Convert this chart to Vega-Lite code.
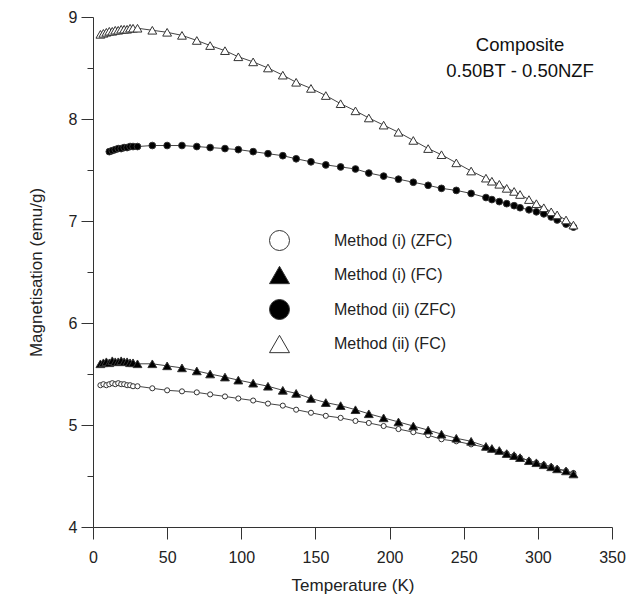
{
  "$schema": "https://vega.github.io/schema/vega-lite/v6.json",
  "autosize": {"type": "none"},
  "width": 519,
  "height": 510,
  "padding": {"left": 93, "top": 17, "right": 15, "bottom": 71},
  "background": "white",
  "config": {
    "view": {"stroke": null},
    "font": "Liberation Sans",
    "axis": {"domainColor": "#333", "tickColor": "#333", "labelColor": "#222", "titleColor": "#222", "labelFont": "Liberation Sans", "titleFont": "Liberation Sans", "labelFontSize": 16, "titleFontSize": 17, "titleFontWeight": "normal", "grid": false, "domainWidth": 1, "tickWidth": 1},
    "legend": {"symbolStrokeWidth": 1, "symbolOpacity": 1}
  },
  "datasets": {
    "pts": [
      {"T":5,"M":5.39,"s":"Method (i) (ZFC)"},{"T":7,"M":5.40,"s":"Method (i) (ZFC)"},{"T":9,"M":5.39,"s":"Method (i) (ZFC)"},{"T":11,"M":5.40,"s":"Method (i) (ZFC)"},{"T":13,"M":5.41,"s":"Method (i) (ZFC)"},{"T":15,"M":5.40,"s":"Method (i) (ZFC)"},{"T":17,"M":5.41,"s":"Method (i) (ZFC)"},{"T":19,"M":5.40,"s":"Method (i) (ZFC)"},{"T":21,"M":5.40,"s":"Method (i) (ZFC)"},{"T":23,"M":5.39,"s":"Method (i) (ZFC)"},{"T":25,"M":5.39,"s":"Method (i) (ZFC)"},{"T":27,"M":5.38,"s":"Method (i) (ZFC)"},{"T":30,"M":5.38,"s":"Method (i) (ZFC)"},
      {"T":40,"M":5.36,"s":"Method (i) (ZFC)"},{"T":50,"M":5.34,"s":"Method (i) (ZFC)"},{"T":60,"M":5.33,"s":"Method (i) (ZFC)"},{"T":70,"M":5.32,"s":"Method (i) (ZFC)"},{"T":79,"M":5.30,"s":"Method (i) (ZFC)"},{"T":89,"M":5.28,"s":"Method (i) (ZFC)"},{"T":98,"M":5.26,"s":"Method (i) (ZFC)"},{"T":108,"M":5.24,"s":"Method (i) (ZFC)"},{"T":118,"M":5.21,"s":"Method (i) (ZFC)"},{"T":128,"M":5.19,"s":"Method (i) (ZFC)"},{"T":137,"M":5.15,"s":"Method (i) (ZFC)"},{"T":147,"M":5.12,"s":"Method (i) (ZFC)"},{"T":157,"M":5.09,"s":"Method (i) (ZFC)"},{"T":167,"M":5.07,"s":"Method (i) (ZFC)"},{"T":177,"M":5.04,"s":"Method (i) (ZFC)"},{"T":186,"M":5.02,"s":"Method (i) (ZFC)"},{"T":196,"M":4.99,"s":"Method (i) (ZFC)"},{"T":206,"M":4.96,"s":"Method (i) (ZFC)"},{"T":216,"M":4.93,"s":"Method (i) (ZFC)"},{"T":226,"M":4.90,"s":"Method (i) (ZFC)"},{"T":235,"M":4.86,"s":"Method (i) (ZFC)"},{"T":245,"M":4.84,"s":"Method (i) (ZFC)"},{"T":255,"M":4.81,"s":"Method (i) (ZFC)"},{"T":265,"M":4.78,"s":"Method (i) (ZFC)"},{"T":269,"M":4.76,"s":"Method (i) (ZFC)"},{"T":274,"M":4.74,"s":"Method (i) (ZFC)"},{"T":279,"M":4.72,"s":"Method (i) (ZFC)"},{"T":284,"M":4.70,"s":"Method (i) (ZFC)"},{"T":288,"M":4.68,"s":"Method (i) (ZFC)"},{"T":294,"M":4.65,"s":"Method (i) (ZFC)"},{"T":299,"M":4.63,"s":"Method (i) (ZFC)"},{"T":304,"M":4.61,"s":"Method (i) (ZFC)"},{"T":309,"M":4.59,"s":"Method (i) (ZFC)"},{"T":313,"M":4.57,"s":"Method (i) (ZFC)"},{"T":319,"M":4.55,"s":"Method (i) (ZFC)"},{"T":324,"M":4.53,"s":"Method (i) (ZFC)"},

      {"T":5,"M":5.60,"s":"Method (i) (FC)"},{"T":7,"M":5.61,"s":"Method (i) (FC)"},{"T":9,"M":5.62,"s":"Method (i) (FC)"},{"T":11,"M":5.61,"s":"Method (i) (FC)"},{"T":13,"M":5.63,"s":"Method (i) (FC)"},{"T":15,"M":5.62,"s":"Method (i) (FC)"},{"T":17,"M":5.62,"s":"Method (i) (FC)"},{"T":19,"M":5.63,"s":"Method (i) (FC)"},{"T":21,"M":5.62,"s":"Method (i) (FC)"},{"T":23,"M":5.62,"s":"Method (i) (FC)"},{"T":25,"M":5.61,"s":"Method (i) (FC)"},{"T":27,"M":5.61,"s":"Method (i) (FC)"},{"T":30,"M":5.60,"s":"Method (i) (FC)"},
      {"T":40,"M":5.60,"s":"Method (i) (FC)"},{"T":50,"M":5.58,"s":"Method (i) (FC)"},{"T":60,"M":5.56,"s":"Method (i) (FC)"},{"T":70,"M":5.53,"s":"Method (i) (FC)"},{"T":79,"M":5.50,"s":"Method (i) (FC)"},{"T":89,"M":5.47,"s":"Method (i) (FC)"},{"T":98,"M":5.44,"s":"Method (i) (FC)"},{"T":108,"M":5.41,"s":"Method (i) (FC)"},{"T":118,"M":5.38,"s":"Method (i) (FC)"},{"T":128,"M":5.34,"s":"Method (i) (FC)"},{"T":137,"M":5.31,"s":"Method (i) (FC)"},{"T":147,"M":5.26,"s":"Method (i) (FC)"},{"T":157,"M":5.22,"s":"Method (i) (FC)"},{"T":167,"M":5.19,"s":"Method (i) (FC)"},{"T":177,"M":5.15,"s":"Method (i) (FC)"},{"T":186,"M":5.11,"s":"Method (i) (FC)"},{"T":196,"M":5.07,"s":"Method (i) (FC)"},{"T":206,"M":5.03,"s":"Method (i) (FC)"},{"T":216,"M":4.99,"s":"Method (i) (FC)"},{"T":226,"M":4.95,"s":"Method (i) (FC)"},{"T":235,"M":4.91,"s":"Method (i) (FC)"},{"T":245,"M":4.87,"s":"Method (i) (FC)"},{"T":255,"M":4.84,"s":"Method (i) (FC)"},{"T":265,"M":4.79,"s":"Method (i) (FC)"},{"T":269,"M":4.77,"s":"Method (i) (FC)"},{"T":274,"M":4.75,"s":"Method (i) (FC)"},{"T":279,"M":4.72,"s":"Method (i) (FC)"},{"T":284,"M":4.70,"s":"Method (i) (FC)"},{"T":288,"M":4.68,"s":"Method (i) (FC)"},{"T":294,"M":4.65,"s":"Method (i) (FC)"},{"T":299,"M":4.63,"s":"Method (i) (FC)"},{"T":304,"M":4.61,"s":"Method (i) (FC)"},{"T":309,"M":4.59,"s":"Method (i) (FC)"},{"T":313,"M":4.57,"s":"Method (i) (FC)"},{"T":319,"M":4.55,"s":"Method (i) (FC)"},{"T":324,"M":4.52,"s":"Method (i) (FC)"},

      {"T":11,"M":7.68,"s":"Method (ii) (ZFC)"},{"T":13,"M":7.69,"s":"Method (ii) (ZFC)"},{"T":15,"M":7.70,"s":"Method (ii) (ZFC)"},{"T":17,"M":7.71,"s":"Method (ii) (ZFC)"},{"T":19,"M":7.71,"s":"Method (ii) (ZFC)"},{"T":21,"M":7.72,"s":"Method (ii) (ZFC)"},{"T":23,"M":7.72,"s":"Method (ii) (ZFC)"},{"T":25,"M":7.73,"s":"Method (ii) (ZFC)"},{"T":27,"M":7.73,"s":"Method (ii) (ZFC)"},{"T":30,"M":7.73,"s":"Method (ii) (ZFC)"},
      {"T":40,"M":7.74,"s":"Method (ii) (ZFC)"},{"T":50,"M":7.74,"s":"Method (ii) (ZFC)"},{"T":60,"M":7.74,"s":"Method (ii) (ZFC)"},{"T":70,"M":7.73,"s":"Method (ii) (ZFC)"},{"T":79,"M":7.72,"s":"Method (ii) (ZFC)"},{"T":89,"M":7.71,"s":"Method (ii) (ZFC)"},{"T":98,"M":7.70,"s":"Method (ii) (ZFC)"},{"T":108,"M":7.68,"s":"Method (ii) (ZFC)"},{"T":118,"M":7.66,"s":"Method (ii) (ZFC)"},{"T":128,"M":7.64,"s":"Method (ii) (ZFC)"},{"T":137,"M":7.61,"s":"Method (ii) (ZFC)"},{"T":147,"M":7.58,"s":"Method (ii) (ZFC)"},{"T":157,"M":7.55,"s":"Method (ii) (ZFC)"},{"T":167,"M":7.53,"s":"Method (ii) (ZFC)"},{"T":177,"M":7.51,"s":"Method (ii) (ZFC)"},{"T":186,"M":7.47,"s":"Method (ii) (ZFC)"},{"T":196,"M":7.44,"s":"Method (ii) (ZFC)"},{"T":206,"M":7.41,"s":"Method (ii) (ZFC)"},{"T":216,"M":7.38,"s":"Method (ii) (ZFC)"},{"T":226,"M":7.35,"s":"Method (ii) (ZFC)"},{"T":235,"M":7.32,"s":"Method (ii) (ZFC)"},{"T":245,"M":7.30,"s":"Method (ii) (ZFC)"},{"T":255,"M":7.27,"s":"Method (ii) (ZFC)"},{"T":265,"M":7.23,"s":"Method (ii) (ZFC)"},{"T":269,"M":7.21,"s":"Method (ii) (ZFC)"},{"T":274,"M":7.19,"s":"Method (ii) (ZFC)"},{"T":279,"M":7.17,"s":"Method (ii) (ZFC)"},{"T":284,"M":7.15,"s":"Method (ii) (ZFC)"},{"T":288,"M":7.13,"s":"Method (ii) (ZFC)"},{"T":294,"M":7.11,"s":"Method (ii) (ZFC)"},{"T":299,"M":7.09,"s":"Method (ii) (ZFC)"},{"T":304,"M":7.07,"s":"Method (ii) (ZFC)"},{"T":309,"M":7.04,"s":"Method (ii) (ZFC)"},{"T":313,"M":7.01,"s":"Method (ii) (ZFC)"},{"T":319,"M":6.97,"s":"Method (ii) (ZFC)"},{"T":324,"M":6.94,"s":"Method (ii) (ZFC)"},

      {"T":5,"M":8.83,"s":"Method (ii) (FC)"},{"T":7,"M":8.84,"s":"Method (ii) (FC)"},{"T":9,"M":8.85,"s":"Method (ii) (FC)"},{"T":11,"M":8.86,"s":"Method (ii) (FC)"},{"T":13,"M":8.86,"s":"Method (ii) (FC)"},{"T":15,"M":8.87,"s":"Method (ii) (FC)"},{"T":17,"M":8.87,"s":"Method (ii) (FC)"},{"T":19,"M":8.88,"s":"Method (ii) (FC)"},{"T":21,"M":8.88,"s":"Method (ii) (FC)"},{"T":23,"M":8.88,"s":"Method (ii) (FC)"},{"T":25,"M":8.89,"s":"Method (ii) (FC)"},{"T":27,"M":8.89,"s":"Method (ii) (FC)"},{"T":30,"M":8.89,"s":"Method (ii) (FC)"},
      {"T":40,"M":8.87,"s":"Method (ii) (FC)"},{"T":50,"M":8.85,"s":"Method (ii) (FC)"},{"T":60,"M":8.82,"s":"Method (ii) (FC)"},{"T":70,"M":8.77,"s":"Method (ii) (FC)"},{"T":79,"M":8.72,"s":"Method (ii) (FC)"},{"T":89,"M":8.67,"s":"Method (ii) (FC)"},{"T":98,"M":8.61,"s":"Method (ii) (FC)"},{"T":108,"M":8.56,"s":"Method (ii) (FC)"},{"T":118,"M":8.50,"s":"Method (ii) (FC)"},{"T":128,"M":8.43,"s":"Method (ii) (FC)"},{"T":137,"M":8.36,"s":"Method (ii) (FC)"},{"T":147,"M":8.30,"s":"Method (ii) (FC)"},{"T":157,"M":8.23,"s":"Method (ii) (FC)"},{"T":167,"M":8.15,"s":"Method (ii) (FC)"},{"T":177,"M":8.08,"s":"Method (ii) (FC)"},{"T":186,"M":8.01,"s":"Method (ii) (FC)"},{"T":196,"M":7.94,"s":"Method (ii) (FC)"},{"T":206,"M":7.87,"s":"Method (ii) (FC)"},{"T":216,"M":7.79,"s":"Method (ii) (FC)"},{"T":226,"M":7.71,"s":"Method (ii) (FC)"},{"T":235,"M":7.65,"s":"Method (ii) (FC)"},{"T":245,"M":7.57,"s":"Method (ii) (FC)"},{"T":255,"M":7.49,"s":"Method (ii) (FC)"},{"T":265,"M":7.42,"s":"Method (ii) (FC)"},{"T":269,"M":7.39,"s":"Method (ii) (FC)"},{"T":274,"M":7.36,"s":"Method (ii) (FC)"},{"T":279,"M":7.32,"s":"Method (ii) (FC)"},{"T":284,"M":7.29,"s":"Method (ii) (FC)"},{"T":288,"M":7.26,"s":"Method (ii) (FC)"},{"T":294,"M":7.21,"s":"Method (ii) (FC)"},{"T":299,"M":7.17,"s":"Method (ii) (FC)"},{"T":304,"M":7.13,"s":"Method (ii) (FC)"},{"T":309,"M":7.09,"s":"Method (ii) (FC)"},{"T":313,"M":7.06,"s":"Method (ii) (FC)"},{"T":319,"M":7.01,"s":"Method (ii) (FC)"},{"T":324,"M":6.96,"s":"Method (ii) (FC)"}
    ]
  },
  "layer": [
    {
      "data": {"name": "pts"},
      "mark": {"type": "line", "color": "#444", "strokeWidth": 1},
      "encoding": {
        "x": {"field": "T", "type": "quantitative", "scale": {"domain": [0, 350], "nice": false, "zero": false},
          "axis": {"title": "Temperature (K)", "values": [0,25,50,75,100,125,150,175,200,225,250,275,300,325,350],
            "labelExpr": "datum.value % 50 === 0 ? datum.label : ''",
            "tickSize": {"condition": {"test": "datum.value % 50 === 0", "value": 12}, "value": 6},
            "labelPadding": 10, "titlePadding": 12, "labelFlush": false}},
        "y": {"field": "M", "type": "quantitative", "scale": {"domain": [4, 9], "nice": false, "zero": false},
          "axis": {"title": "Magnetisation (emu/g)", "values": [4,4.5,5,5.5,6,6.5,7,7.5,8,8.5,9],
            "labelExpr": "datum.value % 1 === 0 ? format(datum.value, 'd') : ''",
            "tickSize": {"condition": {"test": "datum.value % 1 === 0", "value": 12}, "value": 6},
            "labelPadding": 4, "titlePadding": 23, "labelFlush": false}},
        "detail": {"field": "s", "type": "nominal"}
      }
    },
    {
      "data": {"name": "pts"},
      "mark": {"type": "point", "filled": true, "opacity": 1, "strokeWidth": 1},
      "encoding": {
        "x": {"field": "T", "type": "quantitative"},
        "y": {"field": "M", "type": "quantitative"},
        "shape": {"field": "s", "type": "nominal",
          "scale": {"domain": ["Method (i) (ZFC)", "Method (i) (FC)", "Method (ii) (ZFC)", "Method (ii) (FC)"], "range": ["circle", "triangle-up", "circle", "triangle-up"]},
          "legend": {"title": null, "orient": "none", "legendX": 176, "legendY": 213, "padding": 0,
            "symbolSize": 400, "rowPadding": 10.5, "labelOffset": 44, "labelFontSize": 16, "labelFont": "Liberation Sans", "labelColor": "#222", "labelLimit": 300}},
        "fill": {"field": "s", "type": "nominal",
          "scale": {"domain": ["Method (i) (ZFC)", "Method (i) (FC)", "Method (ii) (ZFC)", "Method (ii) (FC)"], "range": ["#ffffff", "#000000", "#000000", "#ffffff"]},
          "legend": {"title": null, "orient": "none", "legendX": 176, "legendY": 213, "padding": 0,
            "symbolSize": 400, "rowPadding": 10.5, "labelOffset": 44, "labelFontSize": 16, "labelFont": "Liberation Sans", "labelColor": "#222", "labelLimit": 300}},
        "stroke": {"field": "s", "type": "nominal",
          "scale": {"domain": ["Method (i) (ZFC)", "Method (i) (FC)", "Method (ii) (ZFC)", "Method (ii) (FC)"], "range": ["#333333", "#333333", "#333333", "#333333"]},
          "legend": {"title": null, "orient": "none", "legendX": 176, "legendY": 213, "padding": 0,
            "symbolSize": 400, "rowPadding": 10.5, "labelOffset": 44, "labelFontSize": 16, "labelFont": "Liberation Sans", "labelColor": "#222", "labelLimit": 300}},
        "size": {"condition": [{"test": "datum.s === 'Method (i) (ZFC)'", "value": 26}, {"test": "datum.s === 'Method (ii) (ZFC)'", "value": 45}], "value": 78}
      }
    },
    {
      "data": {"values": [{}]},
      "mark": {"type": "text", "text": ["Composite", "0.50BT - 0.50NZF"], "font": "Liberation Sans", "fontSize": 18.5, "fontWeight": "normal", "lineHeight": 26, "align": "center", "baseline": "middle", "color": "#111"},
      "encoding": {"x": {"datum": 288}, "y": {"datum": 8.73}}
    }
  ]
}
